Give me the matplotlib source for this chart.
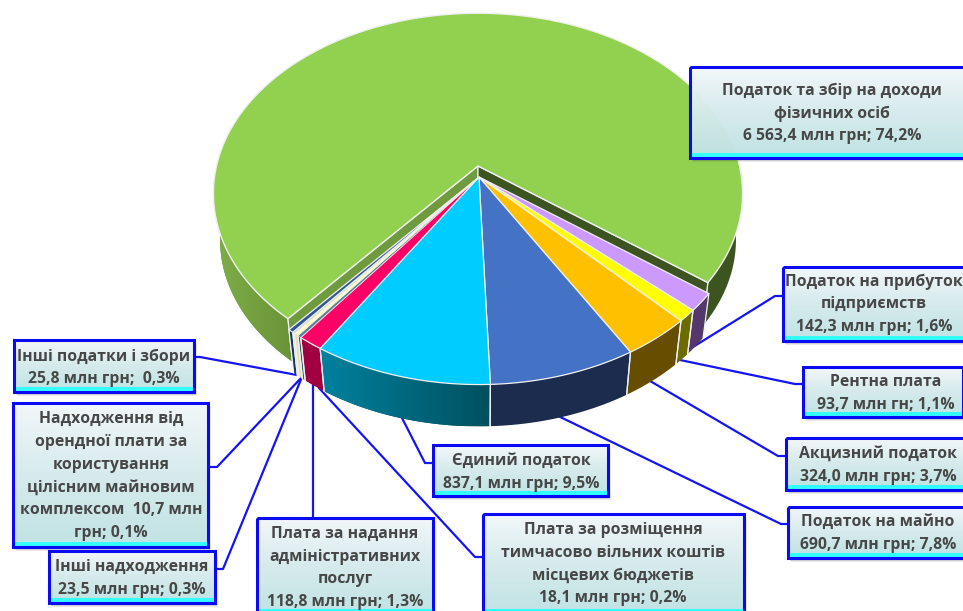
import numpy as np
import matplotlib
matplotlib.use('Agg')
import matplotlib.pyplot as plt
from matplotlib.colors import LinearSegmentedColormap
from matplotlib.patches import Polygon, Rectangle

# Values (mln grn), clockwise from the edge of the big slice
values_big = 6563.4
values_small = [142.3, 93.7, 324.0, 690.7, 837.1, 118.8, 18.1, 23.5, 10.7, 25.8]

top_small = ['#CC99FF', '#FFFF00', '#FFC000', '#4472C4', '#00CCFF', '#FF0066',
             '#5F7F95', '#FFFFCC', '#C8D4E0', '#2F5597']
wall_a = ['#54386B', '#6B6B00', '#664D00', '#1B2C4F', '#00505F', '#A00040',
          '#3F5566', '#E0E0B0', '#9AA8B8', '#1C3460']
wall_b = ['#54386B', '#6B6B00', '#664D00', '#1B2C4F', '#00819F', '#A00040',
          '#3F5566', '#E0E0B0', '#9AA8B8', '#1C3460']

labels = [
    ['Податок та збір на доходи', 'фізичних осіб', '6 563,4 млн грн; 74,2%'],
    ['Податок на прибуток', 'підприємств', '142,3 млн грн; 1,6%'],
    ['Рентна плата', '93,7 млн гн; 1,1%'],
    ['Акцизний податок', '324,0 млн грн; 3,7%'],
    ['Податок на майно', '690,7 млн грн; 7,8%'],
    ['Єдиний податок', '837,1 млн грн; 9,5%'],
    ['Плата за розміщення', 'тимчасово вільних коштів', 'місцевих бюджетів', '18,1 млн грн; 0,2%'],
    ['Плата за надання', 'адміністративних', 'послуг', '118,8 млн грн; 1,3%'],
    ['Інші надходження', '23,5 млн грн; 0,3%'],
    ['Надходження від', 'орендної плати за', 'користування', 'цілісним майновим',
     'комплексом  10,7 млн', 'грн; 0,1%'],
    ['Інші податки і збори', '25,8 млн грн;  0,3%'],
]

# layout in pixels: box x0, y0, x1, y1, text centre x, first line y, line step
boxes = [
    (690, 67, 972, 158, 832, 91, 22.5),
    (783, 267, 972, 341, 874, 282, 22.5),
    (803, 367, 963, 417, 886, 382, 23),
    (786, 438, 972, 490, 878, 454, 23),
    (788, 507, 972, 558, 878, 522, 23),
    (433, 445, 608, 496, 521, 461, 22.5),
    (483, 514, 744, 614, 613, 530, 22.7),
    (257, 518, 433, 614, 345, 534, 22.7),
    (49, 551, 215, 603, 132, 567, 23.5),
    (13, 403, 208, 547, 111, 419, 22.8),
    (14, 340, 194, 392, 104, 357, 22),
]
leaders = [
    [(783, 296), (775, 296), (693, 347)],
    [(803, 384), (795, 384), (680, 360)],
    [(786, 456), (778, 456), (645, 378)],
    [(788, 524), (781, 524), (552, 413)],
    [(433, 463), (425, 463), (400, 414)],
    [(483, 557), (475, 557), (319, 388)],
    [(313, 518), (313, 383)],
    [(215, 569), (223, 569), (302, 377)],
    [(208, 467), (217, 467), (302, 377)],
    [(194, 357), (200, 357), (297, 375)],
]

RX, RY, K = 261.5, 176, 0.152   # perspective ellipse
DEPTH = 47
SHRINK = 0.975                  # lower rim is a bit smaller than the top one
START = 37.0
BIG_C = (478, 166)
SMALL_C = (479, 177)
EDGE = '#F0F0F0'

total = values_big + sum(values_small)
sweeps = np.array(values_small) / total * 360
bounds = START + np.concatenate([[0], np.cumsum(sweeps)])


def proj(t, c):
    t = np.radians(t)
    w = 1 - K * np.sin(t)
    return c[0] + RX * np.cos(t) / w, c[1] + RY * np.sin(t) / w


def low(t, c):
    x, y = proj(t, c)
    return c[0] + (x - c[0]) * SHRINK, c[1] + (y - c[1]) * SHRINK + DEPTH


def arc(a, b, c):
    return proj(np.linspace(a, b, max(int(abs(b - a)) * 2, 4)), c)


def wall(ax, a, b, c, col_a, col_b, z):
    ts = np.linspace(a, b, max(int(abs(b - a)) * 2, 4))
    x1, y1 = proj(ts, c)
    x2, y2 = low(ts, c)
    xy = np.c_[np.r_[x1, x2[::-1]], np.r_[y1, y2[::-1]]]
    poly = Polygon(xy, closed=True, fc=col_a, ec='none', zorder=z)
    ax.add_patch(poly)
    if col_a != col_b:
        # shading runs along x, clipped to the wall
        cm = LinearSegmentedColormap.from_list('w', [col_a, col_b])
        grad = np.linspace(0, 1, 64).reshape(1, -1)
        if x1[0] > x1[-1]:
            grad = grad[:, ::-1]
        im = ax.imshow(grad, extent=(xy[:, 0].min(), xy[:, 0].max(), xy[:, 1].max(), xy[:, 1].min()),
                       cmap=cm, aspect='auto', zorder=z)
        im.set_clip_path(poly)
    for t in (a, b):
        xt, yt = proj(t, c)
        xb, yb = low(t, c)
        ax.plot([xt, xb], [yt, yb], color=EDGE, lw=0.9, zorder=z + 0.1)


fig = plt.figure(figsize=(9.63, 6.11), dpi=100)
ax = fig.add_axes([0, 0, 1, 1])

# leaders sit under the pie
for pts in leaders:
    xs, ys = zip(*pts)
    ax.plot(xs, ys, color='#1414F5', lw=1.6, zorder=1, solid_capstyle='round')

# big slice: outer wall, inner radial walls, top
big_a, big_b = bounds[-1], START + 360
wall(ax, big_a, 200, BIG_C, '#6A9339', '#7FAE48', 2)
wall(ax, 340, big_b, BIG_C, '#3C5420', '#3C5420', 2)
for t, col in [(big_a, '#6F9A3D'), (big_b, '#3C5420')]:
    xc, yc = proj(t, BIG_C)
    xd, yd = low(t, BIG_C)
    ax.fill([BIG_C[0], xc, xd, BIG_C[0]], [BIG_C[1], yc, yd, BIG_C[1] + DEPTH],
            color=col, ec=EDGE, lw=0.9, zorder=3)
x, y = arc(big_a, big_b, BIG_C)
ax.fill(np.r_[BIG_C[0], x], np.r_[BIG_C[1], y], color='#92D050', ec=EDGE, lw=1, zorder=4)

# the other slices, pushed forward a little
for i in range(len(values_small)):
    wall(ax, bounds[i], bounds[i + 1], SMALL_C, wall_a[i], wall_b[i], 5)
for i in range(len(values_small)):
    x, y = arc(bounds[i], bounds[i + 1], SMALL_C)
    ax.fill(np.r_[SMALL_C[0], x], np.r_[SMALL_C[1], y], color=top_small[i], ec=EDGE,
            lw=0.9 if sweeps[i] > 1 else 0.35, zorder=6)

# label boxes
cmap = LinearSegmentedColormap.from_list('box', [(0, '#F6FBFD'), (0.5, '#DAEFF1'), (1, '#C4E6E7')])
for box, lines in zip(boxes, labels):
    x0, y0, x1, y1, tx, ty, step = box
    for off, a in [(4, 0.10), (3, 0.15), (2, 0.2)]:
        ax.add_patch(Rectangle((x0 + off - 1, y0 + off), x1 - x0, y1 - y0, fc='#404040',
                               ec='none', alpha=a, zorder=7))
    grad = np.linspace(0, 1, 64).reshape(-1, 1)
    ax.imshow(grad, extent=(x0, x1, y1 - 4, y0), cmap=cmap, aspect='auto', alpha=0.95, zorder=8)
    ax.add_patch(Rectangle((x0, y1 - 5), x1 - x0, 5, fc='#33FFFF', ec='none', zorder=8.1))
    ax.add_patch(Rectangle((x0, y0), x1 - x0, y1 - y0, fc='none', ec='#0A0AF5', lw=2.2, zorder=9))
    for j, line in enumerate(lines):
        ax.text(tx, ty + j * step, line, ha='center', va='center', fontsize=11.3,
                fontweight='bold', family=['Open Sans', 'DejaVu Sans'], color='#474747', zorder=10)

ax.set_xlim(0, 963)
ax.set_ylim(611, 0)
ax.axis('off')
fig.savefig('out.png', dpi=100)
